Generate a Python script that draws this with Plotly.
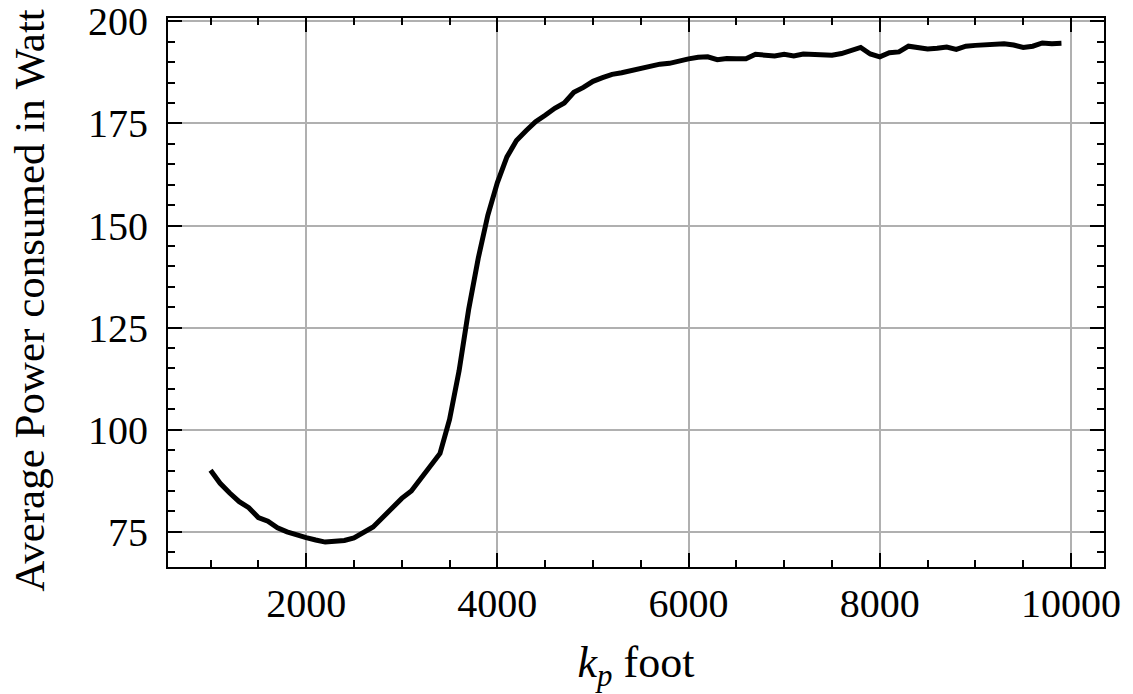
import plotly.graph_objects as go

kp = list(range(1000, 10000, 100))
power = [
    90.1, 86.9, 84.5, 82.4, 80.9, 78.5, 77.6, 76.0, 75.0, 74.2,
    73.6, 73.0, 72.5, 72.7, 72.9, 73.5, 75.0, 76.2, 78.5, 81.0,
    83.2, 85.0, 88.0, 91.0, 94.2, 102.5, 114.5, 129.5, 142.0, 152.5,
    160.5, 166.8, 170.8, 173.2, 175.4, 177.0, 178.7, 180.0, 182.6, 183.8,
    185.3, 186.2, 187.0, 187.4, 188.0, 188.3, 188.9, 189.5, 189.7, 190.4,
    190.8, 191.2, 191.3, 190.6, 190.9, 190.8, 190.8, 191.9, 191.6, 191.5,
    191.9, 191.5, 192.0, 191.9, 192.0, 191.7, 192.1, 192.7, 193.6, 192.0,
    191.3, 192.3, 192.5, 193.9, 193.4, 193.2, 193.4, 193.7, 193.1, 193.9,
    194.1, 194.3, 194.2, 194.5, 194.2, 193.6, 193.9, 194.7, 194.5, 194.6,
]
x_title = "<i>k</i><sub><i>p</i></sub> foot"
y_title = "Average Power consumed in Watt"

FONT = "Liberation Serif"

fig = go.Figure()
fig.add_trace(go.Scatter(x=kp, y=power, mode="lines",
                         line=dict(color="black", width=5), showlegend=False))

axis_common = dict(
    showline=True, linecolor="black", linewidth=2, mirror="allticks",
    ticks="inside", ticklen=14, tickwidth=2, tickcolor="black",
    showgrid=True, gridcolor="#b0b0b0", gridwidth=2,
    zeroline=False, automargin=False, ticklabeloverflow="allow",
    tickfont=dict(family=FONT, size=40, color="black"),
)

fig.update_layout(
    width=1133, height=694,
    margin=dict(l=168, r=29, t=18, b=127),
    paper_bgcolor="white", plot_bgcolor="white",
    font=dict(family=FONT, size=40, color="black"),
    xaxis=dict(
        **axis_common,
        range=[555, 10345], tick0=0, dtick=2000, tickformat="d",
        minor=dict(ticks="inside", ticklen=7, tickwidth=2, tickcolor="black", dtick=500, tick0=0, showgrid=False),
        ticklabelstandoff=0,
        title=dict(text=x_title, font=dict(family=FONT, size=44), standoff=21),
    ),
    yaxis=dict(
        **axis_common,
        range=[66.4, 200.8], tick0=0, dtick=25,
        minor=dict(ticks="inside", ticklen=7, tickwidth=2, tickcolor="black", dtick=5, tick0=0, showgrid=False),
        ticklabelstandoff=10,
    ),
    annotations=[dict(
        text=y_title, textangle=-90, showarrow=False,
        xref="paper", yref="paper", x=-0.148, y=0.486,
        xanchor="center", yanchor="middle",
        font=dict(family=FONT, size=43, color="black"),
    )],
)

fig.write_html("out.html", config={"displayModeBar": False},
               post_script="document.body.style.margin='0';document.body.style.overflow='hidden';")
